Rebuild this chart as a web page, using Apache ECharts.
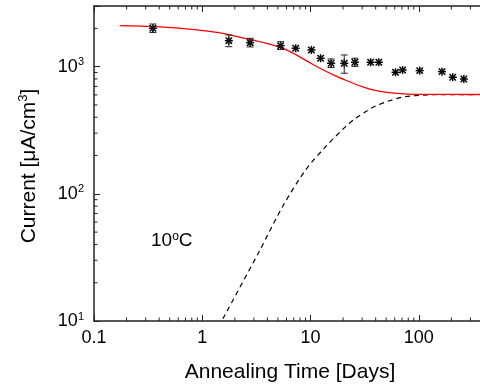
<!DOCTYPE html>
<html><head><meta charset="utf-8">
<script src="https://cdn.jsdelivr.net/npm/echarts@6/dist/echarts.min.js"></script>
<style>html,body{margin:0;padding:0;background:#fff}#c{width:480px;height:385px}</style>
</head><body><div id="c"></div>
<script>
// Measured data (annealing at 10 C)
const timeDays = [0.35, 1.76, 2.77, 5.3, 7.3, 10.2, 12.4, 15.5, 20.5, 25.7, 35.9, 42.8, 61, 71, 102, 164, 206, 261];
const current  = [2004, 1601, 1545, 1462, 1396, 1353, 1164, 1064, 1064, 1083, 1083, 1083, 904, 942, 931, 914, 826, 800];
const currentLow  = [1855, 1436, 1430, 1365, 1396, 1353, 1164, 985, 888, 1005, 1083, 1083, 904, 942, 931, 914, 826, 800];
const currentHigh = [2165, 1775, 1670, 1570, 1396, 1353, 1164, 1150, 1236, 1165, 1083, 1083, 904, 942, 931, 914, 826, 800];
// Fit curve (red)
const fitTime    = [0.173, 0.353, 0.809, 1.426, 2.104, 2.894, 3.79, 5.11, 6.32, 7.81, 9.67, 11.96, 16.45, 21.7, 28.0, 34.6, 42.8, 58.9, 100.2, 400];
const fitCurrent = [2101, 2063, 1968, 1849, 1722, 1622, 1541, 1429, 1324, 1205, 1085, 980, 857, 775, 711, 670, 643, 620, 606, 604];
// Rising component (dashed)
const compTime    = [1.55, 3.34, 5.56, 9.01, 13.8, 21.1, 26.1, 32.3, 39.9, 52.9, 70.3, 93.4, 124, 400];
const compCurrent = [10.4, 34.9, 80.3, 154, 235, 338, 393, 443, 491, 537, 575, 592, 601, 604];
// Axis minor tick values
const xMinorTicks = [0.2,0.3,0.4,0.5,0.6,0.7,0.8,0.9,2,3,4,5,6,7,8,9,20,30,40,50,60,70,80,90,200,300,400,500,600,700,800,900];
const yMinorTicks = [20,30,40,50,60,70,80,90,200,300,400,500,600,700,800,900,2000];

const X_MIN = 0.1, X_MAX = 1000, Y_MIN = 10, Y_MAX = 3000;
const FONT = '"Liberation Sans", Arial, sans-serif';
const AX = '#222';

const chart = echarts.init(document.getElementById('c'), null, {renderer: 'canvas'});

function tickLine(x1, y1, x2, y2) {
  return {type: 'line', shape: {x1, y1, x2, y2}, style: {stroke: AX, lineWidth: 1}};
}

const option = {
  animation: false,
  backgroundColor: '#fff',
  grid: {left: 94, right: -47, top: 6, bottom: 64, containLabel: false, outerBoundsMode: 'none'},
  xAxis: [{
    type: 'log', logBase: 10, min: X_MIN, max: X_MAX, position: 'bottom',
    axisLine: {show: true, lineStyle: {color: AX, width: 1.5}},
    axisTick: {show: true, inside: true, length: 6, lineStyle: {color: AX, width: 1}},
    axisLabel: {show: true, margin: 8, color: '#000', fontSize: 18, fontFamily: FONT, formatter: v => String(v)},
    splitLine: {show: false}
  }, {
    type: 'log', logBase: 10, min: X_MIN, max: X_MAX, position: 'top',
    axisLine: {show: true, onZero: false, lineStyle: {color: AX, width: 1.5}},
    axisTick: {show: true, inside: true, length: 6, lineStyle: {color: AX, width: 1}},
    axisLabel: {show: false}, splitLine: {show: false}
  }],
  yAxis: [{
    type: 'log', logBase: 10, min: Y_MIN, max: Y_MAX,
    axisLine: {show: true, lineStyle: {color: AX, width: 1.5}},
    axisTick: {show: true, inside: true, length: 6, lineStyle: {color: AX, width: 1}},
    axisLabel: {
      show: true, margin: 10, color: '#000',
      formatter: v => {
        const e = Math.log10(v);
        if (Math.abs(e - Math.round(e)) > 1e-6) return '';
        return '{b|10}{s|' + Math.round(e) + '}';
      },
      rich: {
        b: {fontSize: 18, fontFamily: FONT, color: '#000'},
        s: {fontSize: 11, fontFamily: FONT, color: '#000', padding: [0, 0, 9, 0]}
      }
    },
    splitLine: {show: false}
  }],
  graphic: [
    {type: 'text', x: 290, y: 372, silent: true,
     style: {text: 'Annealing Time [Days]', font: '21px ' + FONT, fill: '#000', align: 'center', verticalAlign: 'middle'}},
    {type: 'text', x: 29, y: 166, rotation: Math.PI / 2, silent: true,
     style: {text: '{a|Current [μA/cm}{s|3}{a|]}', align: 'center', verticalAlign: 'middle',
       rich: {a: {fontSize: 21, fontFamily: FONT, fill: '#000', color: '#000'},
              s: {fontSize: 13, fontFamily: FONT, fill: '#000', color: '#000', padding: [0, 0, 11, 0]}}}},
    {type: 'text', x: 151, y: 241, silent: true,
     style: {text: '{a|10}{s|o}{a|C}', align: 'left', verticalAlign: 'middle',
       rich: {a: {fontSize: 19, fontFamily: FONT, color: '#000'},
              s: {fontSize: 12, fontFamily: FONT, color: '#000', padding: [0, 0, 9, 0]}}}}
  ],
  series: [
    {
      type: 'line', name: 'fit', xAxisIndex: 0, yAxisIndex: 0,
      data: fitTime.map((t, i) => [t, fitCurrent[i]]),
      smooth: 0.3, showSymbol: false, symbol: 'none',
      lineStyle: {color: '#ff0000', width: 1.3}, z: 3
    },
    {
      type: 'line', name: 'component', xAxisIndex: 0, yAxisIndex: 0,
      data: compTime.map((t, i) => [t, compCurrent[i]]),
      smooth: 0.3, showSymbol: false, symbol: 'none',
      lineStyle: {color: '#000', width: 1.2, type: [5, 4]}, z: 2
    },
    {
      type: 'custom', name: 'data', xAxisIndex: 0, yAxisIndex: 0, z: 5, silent: true,
      data: timeDays.map((t, i) => [t, current[i], currentLow[i], currentHigh[i]]),
      encode: {x: 0, y: 1},
      renderItem: (params, api) => {
        const t = api.value(0), v = api.value(1), lo = api.value(2), hi = api.value(3);
        const p = api.coord([t, v]);
        const st = {stroke: '#000', lineWidth: 1.5};
        const r = 4, d = 3.2;
        const ch = [
          {type: 'line', shape: {x1: p[0], y1: p[1] - r, x2: p[0], y2: p[1] + r}, style: st},
          {type: 'line', shape: {x1: p[0] - r, y1: p[1], x2: p[0] + r, y2: p[1]}, style: st},
          {type: 'line', shape: {x1: p[0] - d, y1: p[1] - d, x2: p[0] + d, y2: p[1] + d}, style: st},
          {type: 'line', shape: {x1: p[0] - d, y1: p[1] + d, x2: p[0] + d, y2: p[1] - d}, style: st}
        ];
        if (lo < v || hi > v) {
          const a = api.coord([t, hi]), b = api.coord([t, lo]);
          const es = {stroke: '#222', lineWidth: 1};
          ch.push({type: 'line', shape: {x1: a[0], y1: a[1], x2: b[0], y2: b[1]}, style: es});
          ch.push({type: 'line', shape: {x1: a[0] - 3.5, y1: a[1], x2: a[0] + 3.5, y2: a[1]}, style: es});
          ch.push({type: 'line', shape: {x1: b[0] - 3.5, y1: b[1], x2: b[0] + 3.5, y2: b[1]}, style: es});
        }
        return {type: 'group', children: ch};
      }
    },
    {
      type: 'custom', name: 'xMinor', xAxisIndex: 0, yAxisIndex: 0, silent: true, z: 1,
      data: xMinorTicks.map(v => [v, 100]),
      encode: {x: 0, y: 1},
      renderItem: (params, api) => {
        const v = api.value(0);
        const b = api.coord([v, Y_MIN]), t = api.coord([v, Y_MAX]);
        return {type: 'group', children: [tickLine(b[0], b[1], b[0], b[1] - 3.5), tickLine(t[0], t[1], t[0], t[1] + 3.5)]};
      }
    },
    {
      type: 'custom', name: 'yMinor', xAxisIndex: 0, yAxisIndex: 0, silent: true, z: 1,
      data: yMinorTicks.map(v => [1, v]),
      encode: {x: 0, y: 1},
      renderItem: (params, api) => {
        const v = api.value(1);
        const l = api.coord([X_MIN, v]);
        return tickLine(l[0], l[1], l[0] + 3.5, l[1]);
      }
    }
  ]
};
chart.setOption(option);
</script>
</body></html>
